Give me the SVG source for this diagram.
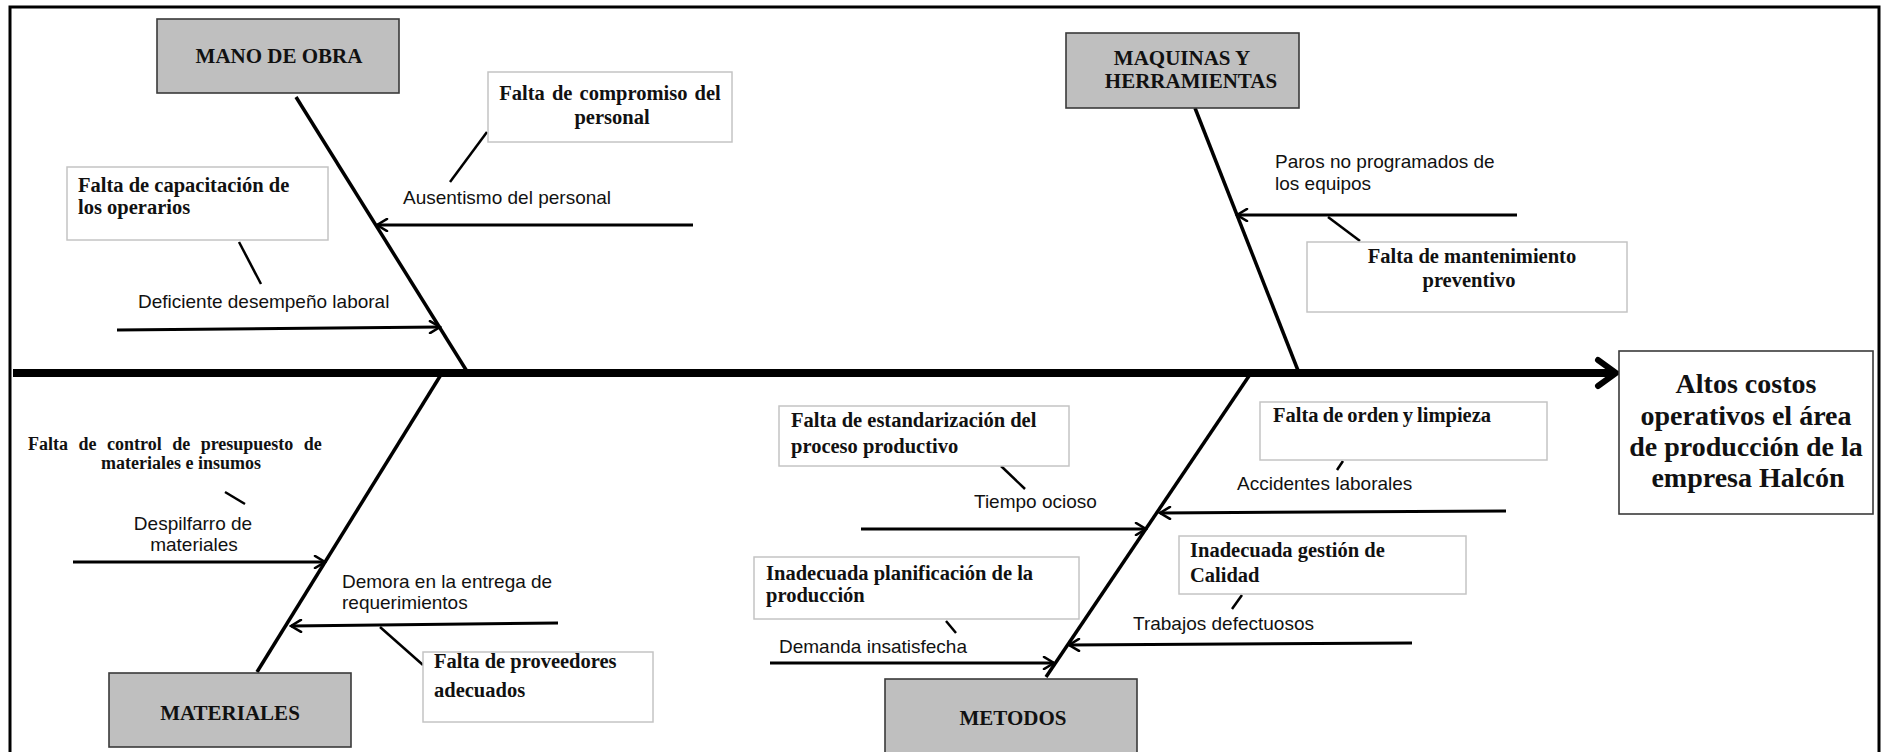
<svg xmlns="http://www.w3.org/2000/svg" width="1886" height="752" viewBox="0 0 1886 752">
  <style>
    .cat { fill: #bfbfbf; stroke: #3a3a3a; stroke-width: 1.6; }
    .cause { fill: #ffffff; stroke: #c4c4c4; stroke-width: 1.5; }
    .effect { fill: #ffffff; stroke: #3a3a3a; stroke-width: 1.6; }
    .hd { font-family: "Liberation Serif", "Times New Roman", serif; font-weight: bold; font-size: 21px; fill: #111; }
    .bt { font-family: "Liberation Serif", "Times New Roman", serif; font-weight: bold; font-size: 20.5px; fill: #111; }
    .sm { font-family: "Liberation Serif", "Times New Roman", serif; font-weight: bold; font-size: 18px; fill: #111; }
    .ef { font-family: "Liberation Serif", "Times New Roman", serif; font-weight: bold; font-size: 28px; fill: #111; }
    .lb { font-family: "Liberation Sans", Arial, sans-serif; font-size: 19px; fill: #111; }
    .bone { stroke: #000; stroke-width: 3.5; fill: none; }
    .sub { stroke: #000; stroke-width: 3; fill: none; marker-end: url(#ah); }
    .tie { stroke: #000; stroke-width: 2.5; fill: none; }
  </style>
  <defs>
    <marker id="ah" viewBox="0 0 14 14" refX="12" refY="7" markerWidth="14" markerHeight="14" markerUnits="userSpaceOnUse" orient="auto">
      <path d="M2,1 L12,7 L2,13" fill="none" stroke="#000" stroke-width="2.6" stroke-linecap="round" stroke-linejoin="miter"/>
    </marker>
  </defs>

  <rect width="1886" height="752" fill="#ffffff"/>
  <!-- page frame (open at the bottom) -->
  <path d="M10,752 V7 H1879 V752" fill="none" stroke="#000" stroke-width="3"/>

  <g id="connectors">
    <!-- main spine -->
    <line x1="13" y1="373" x2="1612" y2="373" stroke="#000" stroke-width="8"/>
    <path d="M1598,360 L1616,373 L1598,386" fill="none" stroke="#000" stroke-width="6" stroke-linecap="round" stroke-linejoin="miter"/>
    <!-- category bones -->
    <line class="bone" x1="296" y1="97" x2="468" y2="373"/>
    <line class="bone" x1="1195" y1="108" x2="1299" y2="373"/>
    <line class="bone" x1="442" y1="373" x2="257" y2="672"/>
    <line class="bone" x1="1251" y1="373" x2="1046" y2="677"/>
    <!-- sub-cause arrows -->
    <line class="sub" x1="693" y1="225" x2="377" y2="225"/>
    <line class="sub" x1="117" y1="330" x2="440" y2="327"/>
    <line class="sub" x1="1517" y1="215" x2="1237" y2="215"/>
    <line class="sub" x1="73" y1="562" x2="325" y2="562"/>
    <line class="sub" x1="558" y1="623" x2="291" y2="626"/>
    <line class="sub" x1="861" y1="529" x2="1146" y2="529"/>
    <line class="sub" x1="1506" y1="511" x2="1160" y2="513"/>
    <line class="sub" x1="1412" y1="643" x2="1069" y2="645"/>
    <line class="sub" x1="770" y1="663" x2="1054" y2="663"/>
    <!-- ties from root-cause boxes to their labels -->
    <line class="tie" x1="487" y1="132" x2="450" y2="182"/>
    <line class="tie" x1="239" y1="242" x2="261" y2="284"/>
    <line class="tie" x1="1328" y1="217" x2="1360" y2="241"/>
    <line class="tie" x1="225" y1="492" x2="245" y2="504"/>
    <line class="tie" x1="380" y1="627" x2="423" y2="665"/>
    <line class="tie" x1="1001" y1="466" x2="1025" y2="489"/>
    <line class="tie" x1="1343" y1="461" x2="1337" y2="470"/>
    <line class="tie" x1="1242" y1="595" x2="1232" y2="609"/>
    <line class="tie" x1="946" y1="621" x2="956" y2="633"/>
  </g>

  <!-- categories -->
  <g id="mano-de-obra">
    <rect class="cat" x="157" y="19" width="242" height="74"/>
    <text class="hd" x="279" y="63" text-anchor="middle">MANO DE OBRA</text>
  </g>
  <g id="maquinas">
    <rect class="cat" x="1066" y="33" width="233" height="75"/>
    <text class="hd" x="1182" y="65" text-anchor="middle">MAQUINAS Y</text>
    <text class="hd" x="1191" y="88" text-anchor="middle">HERRAMIENTAS</text>
  </g>
  <g id="materiales">
    <rect class="cat" x="109" y="673" width="242" height="74"/>
    <text class="hd" x="230" y="720" text-anchor="middle">MATERIALES</text>
  </g>
  <g id="metodos">
    <rect class="cat" x="885" y="679" width="252" height="80"/>
    <text class="hd" x="1013" y="725" text-anchor="middle">METODOS</text>
  </g>

  <!-- effect -->
  <g id="efecto">
    <rect class="effect" x="1619" y="351" width="254" height="163"/>
    <text class="ef" x="1746" y="393" text-anchor="middle">Altos costos</text>
    <text class="ef" x="1746" y="425" text-anchor="middle">operativos el área</text>
    <text class="ef" x="1746" y="456" text-anchor="middle">de producción de la</text>
    <text class="ef" x="1748" y="487" text-anchor="middle">empresa Halcón</text>
  </g>

  <!-- root causes -->
  <g id="falta-compromiso">
    <rect class="cause" x="488" y="72" width="244" height="70"/>
    <text class="bt" x="610" y="100" text-anchor="middle" word-spacing="2">Falta de compromiso del</text>
    <text class="bt" x="612" y="124" text-anchor="middle">personal</text>
  </g>
  <g id="falta-capacitacion">
    <rect class="cause" x="67" y="167" width="261" height="73"/>
    <text class="bt" x="78" y="192">Falta de capacitación de</text>
    <text class="bt" x="78" y="214">los operarios</text>
  </g>
  <g id="falta-mantenimiento">
    <rect class="cause" x="1307" y="242" width="320" height="70"/>
    <text class="bt" x="1472" y="263" text-anchor="middle">Falta de mantenimiento</text>
    <text class="bt" x="1469" y="287" text-anchor="middle">preventivo</text>
  </g>
  <g id="falta-control">
    <text class="sm" x="28" y="450" word-spacing="6">Falta de control de presupuesto de</text>
    <text class="sm" x="181" y="469" text-anchor="middle">materiales e insumos</text>
  </g>
  <g id="falta-proveedores">
    <rect class="cause" x="423" y="652" width="230" height="70"/>
    <text class="bt" x="434" y="668">Falta de proveedores</text>
    <text class="bt" x="434" y="697">adecuados</text>
  </g>
  <g id="falta-estandarizacion">
    <rect class="cause" x="779" y="406" width="290" height="60"/>
    <text class="bt" x="791" y="427">Falta de estandarización del</text>
    <text class="bt" x="791" y="453">proceso productivo</text>
  </g>
  <g id="falta-orden">
    <rect class="cause" x="1260" y="402" width="287" height="58"/>
    <text class="bt" x="1273" y="422" word-spacing="-1">Falta de orden y limpieza</text>
  </g>
  <g id="gestion-calidad">
    <rect class="cause" x="1179" y="536" width="287" height="58"/>
    <text class="bt" x="1190" y="557">Inadecuada gestión de</text>
    <text class="bt" x="1190" y="582">Calidad</text>
  </g>
  <g id="planificacion">
    <rect class="cause" x="754" y="557" width="325" height="62"/>
    <text class="bt" x="766" y="580">Inadecuada planificación de la</text>
    <text class="bt" x="766" y="602">producción</text>
  </g>

  <!-- effects on the bones -->
  <g id="ausentismo"><text class="lb" x="403" y="204">Ausentismo del personal</text></g>
  <g id="desempeno"><text class="lb" x="138" y="308">Deficiente desempeño laboral</text></g>
  <g id="paros">
    <text class="lb" x="1275" y="168">Paros no programados de</text>
    <text class="lb" x="1275" y="190">los equipos</text>
  </g>
  <g id="despilfarro">
    <text class="lb" x="193" y="530" text-anchor="middle">Despilfarro de</text>
    <text class="lb" x="194" y="551" text-anchor="middle">materiales</text>
  </g>
  <g id="demora">
    <text class="lb" x="342" y="588">Demora en la entrega de</text>
    <text class="lb" x="342" y="609">requerimientos</text>
  </g>
  <g id="tiempo-ocioso"><text class="lb" x="974" y="508">Tiempo ocioso</text></g>
  <g id="accidentes"><text class="lb" x="1237" y="490">Accidentes laborales</text></g>
  <g id="trabajos"><text class="lb" x="1133" y="630">Trabajos defectuosos</text></g>
  <g id="demanda"><text class="lb" x="779" y="653">Demanda insatisfecha</text></g>
</svg>
